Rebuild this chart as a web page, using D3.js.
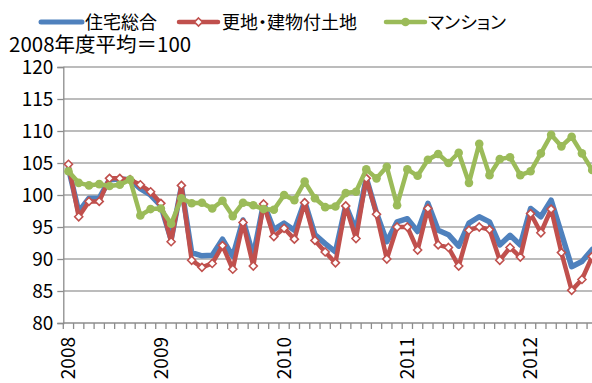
<!DOCTYPE html>
<html>
<head>
<meta charset="utf-8">
<script src="https://cdn.jsdelivr.net/npm/d3@7"></script>
<style>
  html, body { margin: 0; padding: 0; background: #fff; }
  svg { display: block; }
  text { font-family: "Noto Sans CJK JP", "Noto Sans", sans-serif; fill: #000; }
  .legend-text { font-feature-settings: "palt" 1; }
</style>
</head>
<body>
<svg id="chart" width="592" height="383"></svg>
<script>
// ---- data ----
const categories = [
  "2008-04","2008-05","2008-06","2008-07","2008-08","2008-09","2008-10","2008-11","2008-12",
  "2009-01","2009-02","2009-03","2009-04","2009-05","2009-06","2009-07","2009-08","2009-09","2009-10","2009-11","2009-12",
  "2010-01","2010-02","2010-03","2010-04","2010-05","2010-06","2010-07","2010-08","2010-09","2010-10","2010-11","2010-12",
  "2011-01","2011-02","2011-03","2011-04","2011-05","2011-06","2011-07","2011-08","2011-09","2011-10","2011-11","2011-12",
  "2012-01","2012-02","2012-03","2012-04","2012-05","2012-06","2012-07"
];
const housingTotal = [
  104.2, 97.4, 99.5, 99.5, 102.4, 102.5, 102.4, 101.0, 100.0,
  98.3, 93.0, 101.3, 91.0, 90.5, 90.6, 93.1, 90.4, 96.1, 90.5, 98.7, 94.6,
  95.6, 94.5, 99.0, 93.8, 92.4, 91.1, 98.4, 94.5, 102.7, 97.2, 92.7, 95.8,
  96.3, 94.3, 98.7, 94.5, 93.8, 92.0, 95.6, 96.6, 95.8, 92.2, 93.7, 92.2,
  97.9, 96.6, 99.2, 94.0, 88.8, 89.6, 91.5
];
const landBuilding = [
  104.8, 96.6, 99.0, 99.0, 102.6, 102.6, 102.4, 101.6, 100.5,
  98.7, 92.7, 101.5, 89.8, 88.7, 89.3, 92.1, 88.4, 95.7, 88.9, 98.6, 93.5,
  94.8, 93.1, 98.8, 92.9, 91.1, 89.4, 98.3, 93.2, 102.6, 97.0, 90.0, 95.0,
  95.0, 91.4, 97.9, 92.2, 91.8, 88.9, 94.5, 95.0, 94.6, 89.8, 91.8, 90.3,
  97.1, 94.1, 97.8, 91.0, 85.1, 86.8, 90.4
];
const condominium = [
  103.7, 101.9, 101.5, 101.7, 101.4, 101.6, 102.4, 96.8, 97.8,
  97.9, 95.5, 99.5, 98.7, 98.8, 97.9, 99.1, 96.7, 98.8, 98.4, 97.8, 97.7,
  100.0, 99.2, 102.1, 99.5, 98.1, 98.2, 100.3, 100.5, 104.0, 102.6, 104.4, 98.4,
  104.0, 103.0, 105.5, 106.4, 105.0, 106.6, 101.9, 108.0, 103.1, 105.6, 105.9, 103.1,
  103.7, 106.5, 109.4, 107.6, 109.1, 106.5, 103.9
];
const seriesNames = ["住宅総合", "更地・建物付土地", "マンション"];
const yearTickCats = ["2008-04", "2009-01", "2010-01", "2011-01", "2012-01"];
const yearTickLabels = ["2008", "2009", "2010", "2011", "2012"];
const yTicks = [80, 85, 90, 95, 100, 105, 110, 115, 120];
const subtitle = "2008年度平均＝100";

// ---- layout ----
const svg = d3.select("#chart");
const plotLeft = 63.3, plotTop = 67, plotBottom = 323;
const band = 10.27;
const plotRight = plotLeft + band * categories.length;

const x = d3.scaleBand().domain(categories).range([plotLeft, plotRight]).padding(0);
const cx = c => x(c) + x.bandwidth() / 2;
const y = d3.scaleLinear().domain([80, 120]).range([plotBottom, plotTop]);

const gridColor = "#a6a6a6";
const axisColor = "#8c8c8c";

// gridlines
svg.append("g").selectAll("line").data(yTicks.filter(t => t !== 80)).join("line")
  .attr("x1", plotLeft).attr("x2", 600)
  .attr("y1", d => y(d)).attr("y2", d => y(d))
  .attr("stroke", gridColor).attr("stroke-width", 1.3);

// y axis
const yAxis = d3.axisLeft(y).tickValues(yTicks).tickSize(6).tickPadding(4);
const gy = svg.append("g").attr("transform", `translate(${plotLeft},0)`).call(yAxis);
gy.select(".domain").attr("stroke", axisColor).attr("stroke-width", 1.3);
gy.selectAll(".tick line").attr("stroke", axisColor).attr("stroke-width", 1.3);
gy.selectAll(".tick text").attr("font-size", 19)
  .attr("font-family", "'Noto Sans CJK JP', sans-serif").attr("fill", "#000").attr("dy", "0.34em");

// x axis: tick marks at category boundaries
const gx = svg.append("g");
gx.append("line").attr("x1", plotLeft).attr("x2", 600).attr("y1", plotBottom).attr("y2", plotBottom)
  .attr("stroke", axisColor).attr("stroke-width", 1.3);
gx.selectAll("line.tk").data(categories).join("line").attr("class", "tk")
  .attr("x1", d => x(d)).attr("x2", d => x(d))
  .attr("y1", plotBottom).attr("y2", plotBottom + 6)
  .attr("stroke", axisColor).attr("stroke-width", 1.3);
gx.selectAll("text").data(yearTickCats).join("text")
  .attr("transform", d => `translate(${cx(d)},${plotBottom + 14}) rotate(-90)`)
  .attr("text-anchor", "end").attr("dy", "0.35em")
  .attr("font-size", 19)
  .text((d, i) => yearTickLabels[i]);

// lines
const plot = svg.append("g");
function drawLine(values, color, width) {
  const line = d3.line().x((d, i) => cx(categories[i])).y(d => y(d));
  plot.append("path").datum(values).attr("d", line)
    .attr("fill", "none").attr("stroke", color).attr("stroke-width", width)
    .attr("stroke-linejoin", "round").attr("stroke-linecap", "round");
}
const blue = "#4f81bd", red = "#c0504d", green = "#9bbb59";
drawLine(housingTotal, blue, 5.5);
drawLine(landBuilding, red, 4.5);
plot.append("g").selectAll("path").data(landBuilding).join("path")
  .attr("d", "M0,-4 L4,0 L0,4 L-4,0 Z")
  .attr("transform", (d, i) => `translate(${cx(categories[i])},${y(d)})`)
  .attr("fill", "#fff").attr("stroke", red).attr("stroke-width", 1.6);
drawLine(condominium, green, 4.5);
plot.append("g").selectAll("circle").data(condominium).join("circle")
  .attr("cx", (d, i) => cx(categories[i])).attr("cy", d => y(d)).attr("r", 4.3)
  .attr("fill", green);

// legend
const lg = svg.append("g");
const legendItems = [
  { name: seriesNames[0], color: blue, x1: 41, x2: 82, tx: 85, marker: null, w: 5 },
  { name: seriesNames[1], color: red, x1: 179, x2: 218, tx: 222, marker: "diamond", w: 4.5 },
  { name: seriesNames[2], color: green, x1: 386, x2: 425, tx: 428, marker: "circle", w: 4.5 }
];
legendItems.forEach(it => {
  lg.append("line").attr("x1", it.x1).attr("x2", it.x2).attr("y1", 22).attr("y2", 22)
    .attr("stroke", it.color).attr("stroke-width", it.w).attr("stroke-linecap", "round");
  const mx = (it.x1 + it.x2) / 2;
  if (it.marker === "diamond") {
    lg.append("path").attr("d", "M0,-4 L4,0 L0,4 L-4,0 Z")
      .attr("transform", `translate(${mx},22)`)
      .attr("fill", "#fff").attr("stroke", it.color).attr("stroke-width", 1.6);
  } else if (it.marker === "circle") {
    lg.append("circle").attr("cx", mx).attr("cy", 22).attr("r", 4.3).attr("fill", it.color);
  }
  lg.append("text").attr("class", "legend-text").attr("x", it.tx).attr("y", 28.5)
    .attr("font-size", 18).text(it.name);
});

// subtitle
svg.append("text").attr("x", 9).attr("y", 52).attr("font-size", 20.5).text(subtitle);
</script>
</body>
</html>
